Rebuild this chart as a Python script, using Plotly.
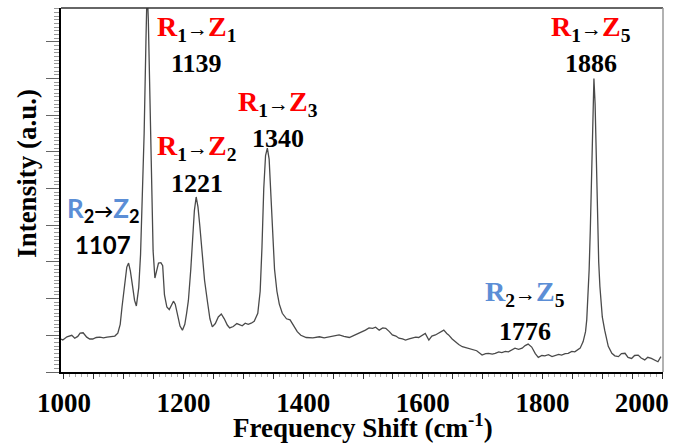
import plotly.graph_objects as go

# ---- data ----
freq = [
    995, 998, 1005, 1013, 1018, 1023, 1027, 1032, 1038, 1043,
    1048, 1054, 1060, 1066, 1072, 1078, 1085, 1090, 1094, 1097,
    1101, 1105, 1108, 1111, 1115, 1118, 1121, 1125, 1128, 1131,
    1134, 1137, 1139, 1141, 1143, 1146, 1149, 1152, 1155, 1158,
    1162, 1165, 1168, 1172, 1176, 1180, 1183, 1186, 1190, 1194,
    1198, 1202, 1205, 1208, 1212, 1215, 1218, 1221, 1224, 1227,
    1231, 1235, 1240, 1244, 1248, 1253, 1258, 1263, 1268, 1273,
    1277, 1283, 1289, 1293, 1298, 1303, 1308, 1313, 1318, 1324,
    1328, 1331, 1334, 1337, 1340, 1343, 1346, 1349, 1352, 1356,
    1360, 1365, 1372, 1378, 1384, 1390, 1396, 1405, 1416, 1427,
    1435, 1443, 1452, 1460, 1468, 1477, 1485, 1493, 1504, 1510,
    1516, 1521, 1527, 1533, 1538, 1544, 1549, 1555, 1560, 1566,
    1571, 1577, 1582, 1588, 1593, 1599, 1604, 1610, 1615, 1621,
    1628, 1635, 1640, 1643, 1649, 1654, 1660, 1666, 1674, 1682,
    1690, 1699, 1705, 1710, 1716, 1721, 1727, 1732, 1738, 1743,
    1749, 1754, 1760, 1766, 1771, 1776, 1782, 1788, 1793, 1799,
    1804, 1810, 1816, 1821, 1827, 1832, 1838, 1843, 1849, 1854,
    1859, 1863, 1868, 1872, 1874, 1876, 1878, 1880, 1882, 1884,
    1886, 1888, 1890, 1892, 1894, 1896, 1900, 1904, 1910, 1916,
    1921, 1927, 1932, 1938, 1943, 1949, 1954, 1960, 1965, 1971,
    1976, 1982, 1988, 1993, 1998,
]
intensity = [
    0.90, 0.87, 0.96, 1.00, 0.92, 0.97, 1.06, 1.07, 0.95, 0.90,
    0.90, 0.94, 0.95, 0.93, 0.95, 0.97, 0.98, 1.06, 1.30, 1.77,
    2.40, 2.86, 2.97, 2.75, 2.30, 1.95, 1.80, 2.30, 3.20, 4.60,
    6.50, 9.00, 10.50, 9.60, 7.80, 5.20, 3.30, 2.56, 2.75, 2.97,
    2.98, 2.90, 2.10, 1.77, 1.70, 1.85, 1.93, 1.85, 1.55, 1.25,
    1.14, 1.30, 1.60, 1.95, 2.80, 3.60, 4.40, 4.77, 4.50, 4.00,
    3.30, 2.50, 1.90, 1.45, 1.23, 1.32, 1.50, 1.58, 1.45, 1.28,
    1.20, 1.24, 1.32, 1.30, 1.26, 1.33, 1.30, 1.33, 1.38, 1.60,
    2.20, 3.40, 5.00, 5.90, 6.10, 5.80, 4.70, 3.50, 2.80, 2.20,
    1.85, 1.60, 1.45, 1.42, 1.25, 1.10, 1.00, 0.94, 0.93, 0.96,
    0.93, 0.96, 0.98, 1.01, 0.97, 0.94, 1.00, 1.05, 1.14, 1.20,
    1.19, 1.22, 1.14, 1.20, 1.19, 1.10, 1.01, 0.98, 0.92, 0.90,
    0.87, 0.90, 0.92, 0.95, 0.94, 1.00, 1.05, 0.87, 0.98, 1.01,
    1.08, 1.14, 1.05, 1.01, 0.90, 0.83, 0.75, 0.69, 0.65, 0.60,
    0.58, 0.46, 0.50, 0.51, 0.49, 0.51, 0.55, 0.53, 0.56, 0.55,
    0.60, 0.65, 0.62, 0.65, 0.72, 0.76, 0.68, 0.50, 0.40, 0.45,
    0.44, 0.47, 0.42, 0.44, 0.48, 0.46, 0.50, 0.51, 0.56, 0.55,
    0.60, 0.65, 0.83, 1.10, 1.42, 2.00, 2.78, 3.90, 5.60, 7.20,
    8.00, 7.30, 5.60, 4.10, 3.00, 2.33, 1.50, 1.14, 0.70, 0.51,
    0.44, 0.42, 0.50, 0.51, 0.40, 0.37, 0.45, 0.46, 0.38, 0.33,
    0.40, 0.37, 0.33, 0.28, 0.42,
]

peak_labels = ["1107", "1139", "1221", "1340", "1776", "1886"]
transition_r = ["2", "1", "1", "1", "2", "1"]
transition_z = ["2", "1", "2", "3", "5", "5"]

x_tick_labels = ["1000", "1200", "1400", "1600", "1800", "2000"]
x_tick_values = [1000, 1200, 1400, 1600, 1800, 2000]

# ---- styling / placement ----
RED = "#ff0000"
BLUE = "#5b8ed6"
SERIF = "Liberation Serif"
SANS = "Lato"
# (label x, transition y, number y, colour, font family) per peak
label_place = [
    (1066, 4.43, 3.48, BLUE, SANS),
    (1222, 9.36, 8.40, RED, SERIF),
    (1222, 6.11, 5.15, RED, SERIF),
    (1358, 7.31, 6.37, RED, SERIF),
    (1771, 2.14, 1.11, BLUE, SERIF),
    (1881, 9.36, 8.40, RED, SERIF),
]

fig = go.Figure()
fig.add_trace(go.Scatter(
    x=freq, y=intensity, mode="lines",
    line=dict(color="#4a4a4a", width=1.3),
    hoverinfo="skip", showlegend=False,
))

for (lx, ty, ny, col, fam), num, r, z in zip(label_place, peak_labels, transition_r, transition_z):
    size = 26 if fam == SANS else 28
    txt = (f'<span style="color:{col}">R</span><sub>{r}</sub>'
           f'<span style="font-size:{int(size*0.75)}px">→</span>'
           f'<span style="color:{col}">Z</span><sub>{z}</sub>')
    fig.add_annotation(x=lx, y=ty, xref="x", yref="y", text=txt, showarrow=False,
                       font=dict(family=fam, size=size, color="black", weight="bold"))
    fig.add_annotation(x=lx, y=ny, xref="x", yref="y", text=num, showarrow=False,
                       font=dict(family=fam, size=size - 2, color="black", weight="bold"))

# axis ticks every 50, labels every 200
tickvals = list(range(1000, 2001, 50))
lab = dict(zip(x_tick_values, x_tick_labels))
ticktext = []
for v in tickvals:
    t = lab.get(v, "")
    if v == x_tick_values[-1]:
        t = t + "\u00a0" * 6  # nudge last label inward so it stays on the page
    ticktext.append(t)

fig.update_xaxes(
    range=[995, 2001.5], tickmode="array", tickvals=tickvals, ticktext=ticktext,
    ticks="outside", ticklen=5, tickwidth=1, tickcolor="#333",
    ticklabelstandoff=1, ticklabeloverflow="allow",
    minor=dict(dtick=10, tick0=1000, ticks="outside", ticklen=3, tickcolor="#aaa", tickwidth=1),
    showline=True, linecolor="black", linewidth=1.5, showgrid=False, zeroline=False,
    tickfont=dict(family=SERIF, size=27, color="black", weight="bold"),
)
fig.update_yaxes(
    range=[0, 9.92], tick0=0, dtick=1, showticklabels=False,
    ticks="outside", ticklen=13, tickwidth=1, tickcolor="#666",
    minor=dict(dtick=0.1, ticks="outside", ticklen=5, tickcolor="#999", tickwidth=1),
    showline=True, linecolor="black", linewidth=2, showgrid=False, zeroline=False,
)

# axis titles
fig.add_annotation(x=0.502, y=-0.149, xref="paper", yref="paper",
                   xanchor="center", yanchor="middle",
                   text="Frequency Shift (cm<sup>-1</sup>)", showarrow=False,
                   font=dict(family=SERIF, size=27, color="black", weight="bold"))
fig.add_annotation(x=-0.0565, y=0.547, xref="paper", yref="paper",
                   xanchor="center", yanchor="middle",
                   text="Intensity (a.u.)", textangle=-90, showarrow=False,
                   font=dict(family=SERIF, size=27, color="black", weight="bold"))

# top and right frame
fig.add_shape(type="line", xref="paper", yref="paper", x0=0, x1=1, y0=1, y1=1,
              line=dict(color="#333", width=1.5))
fig.add_shape(type="line", xref="paper", yref="paper", x0=1, x1=1, y0=0, y1=1,
              line=dict(color="#999", width=1.5))

fig.update_layout(
    width=676, height=445,
    margin=dict(l=61, r=13, t=8, b=73, autoexpand=False),
    paper_bgcolor="white", plot_bgcolor="white",
    showlegend=False,
)

fig.write_html("out.html")
